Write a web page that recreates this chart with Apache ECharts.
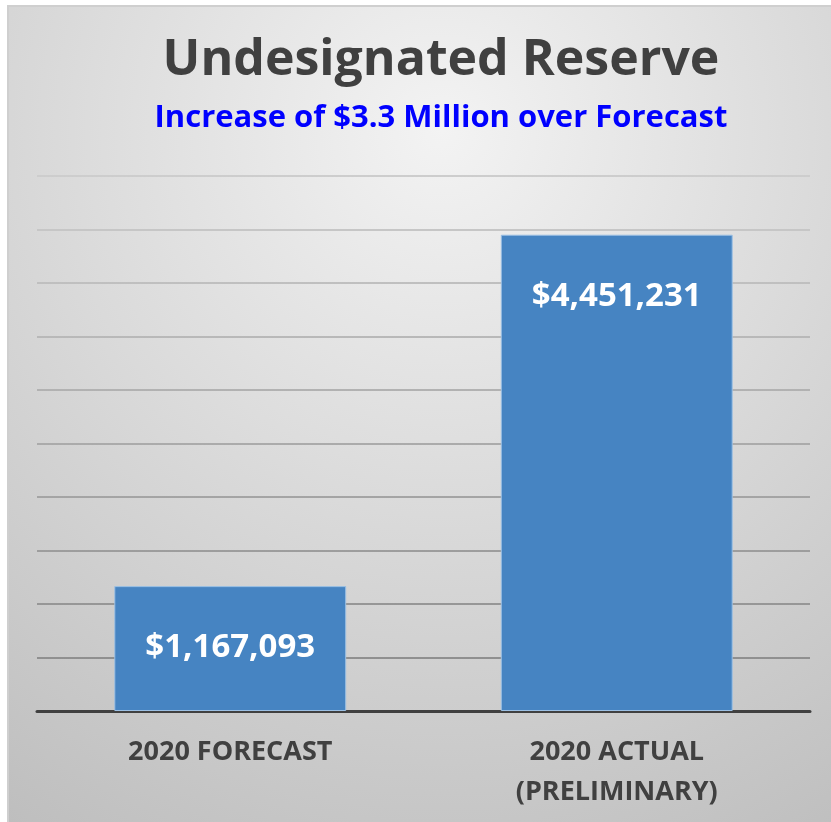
<!DOCTYPE html>
<html><head><meta charset="utf-8">
<script src="https://cdn.jsdelivr.net/npm/echarts@6/dist/echarts.min.js"></script>
<style>html,body{margin:0;padding:0;background:#fff}#c{width:831px;height:822px}</style>
</head><body><div id="c"></div>
<script>
const titleText = 'Undesignated Reserve';
const subtitleText = 'Increase of $3.3 Million over Forecast';
const categories = ['2020 FORECAST', '2020 ACTUAL\n(PRELIMINARY)'];
const values = [1167093, 4451231];
const axisMin = 0, axisMax = 5000000, axisInterval = 500000;

const chart = echarts.init(document.getElementById('c'));
const fmt = v => '$' + v.toLocaleString('en-US');
const font = '"Open Sans", "Noto Sans", sans-serif';
chart.setOption({
  backgroundColor: '#ffffff',
  graphic: [{
    type: 'rect', left: 7, top: 5, z: -10,
    shape: { width: 868, height: 830 },
    style: {
      fill: new echarts.graphic.RadialGradient(0.5, 0.15, 1.0, [
        { offset: 0, color: '#f3f3f3' },
        { offset: 1, color: '#bdbdbd' }
      ]),
      stroke: '#cfcfcf', lineWidth: 2
    },
    silent: true
  }, {
    type: 'text', x: 441, y: 61, z: 10,
    style: { text: titleText, textAlign: 'center', textVerticalAlign: 'middle',
      font: 'bold 50px ' + font, fill: '#404040' }
  }, {
    type: 'text', x: 441, y: 118, z: 10,
    style: { text: subtitleText, textAlign: 'center', textVerticalAlign: 'middle',
      font: 'bold 31px ' + font, fill: '#0000ff' }
  }],
  grid: { left: 37, right: 21, top: 176, bottom: 111, containLabel: false },
  xAxis: {
    type: 'category', data: categories,
    axisTick: { show: false },
    axisLine: { lineStyle: { color: '#404040', width: 3 } },
    axisLabel: { fontFamily: font, fontWeight: 'bold', fontSize: 27, color: '#404040', margin: 21, lineHeight: 40 }
  },
  yAxis: {
    type: 'value', min: axisMin, max: axisMax, interval: axisInterval,
    axisLabel: { show: false }, axisLine: { show: false }, axisTick: { show: false },
    splitLine: { lineStyle: { width: 2, color: new echarts.graphic.LinearGradient(0, 176, 0, 711, [
      { offset: 0, color: '#cdcdcd' }, { offset: 1, color: '#898989' }
    ], true) } }
  },
  series: [{
    type: 'bar', data: values, barWidth: '60%',
    itemStyle: { color: '#4684c2', borderColor: '#9cc0e4', borderWidth: 1 },
    label: {
      show: true, position: 'insideTop', distance: 45,
      formatter: p => fmt(p.value),
      fontFamily: font, fontWeight: 'bold', fontSize: 33, color: '#ffffff'
    }
  }]
});
</script></body></html>
